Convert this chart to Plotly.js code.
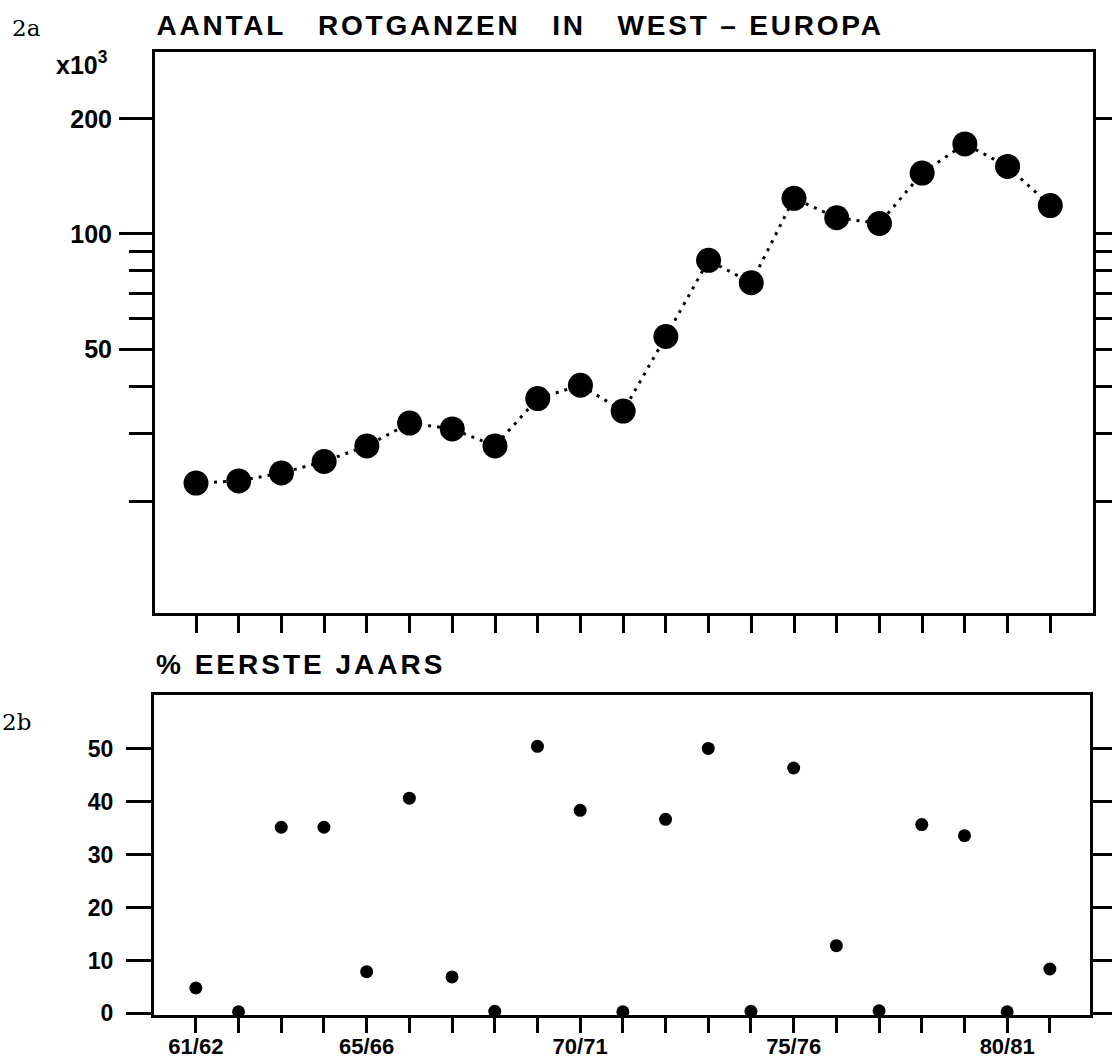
<!DOCTYPE html>
<html>
<head>
<meta charset="utf-8">
<script src="https://cdn.plot.ly/plotly-3.0.1.min.js"></script>
<style>
html,body{margin:0;padding:0;background:#fff;}
#chart{width:1112px;height:1063px;}
.annotation[data-index="0"] text{letter-spacing:2.8px;}
.annotation[data-index="3"] text{letter-spacing:3px;}
</style>
</head>
<body>
<div id="chart"></div>
<script>
// Seasons (winter counts)
const seasons = ['61/62','62/63','63/64','64/65','65/66','66/67','67/68','68/69','69/70','70/71',
                 '71/72','72/73','73/74','74/75','75/76','76/77','77/78','78/79','79/80','80/81','81/82'];
// Number of Brent geese in Western Europe (x 1000)
const counts = [22.3,22.6,23.7,25.4,27.9,32.0,30.9,27.9,37.1,40.2,
                34.4,53.9,85.3,74.5,123.9,110.2,106.5,144.2,171.9,150.1,118.6];
// Percentage first-year birds
const firstYearPct = [4.8,0.3,35.2,35.2,7.9,40.7,6.9,0.4,50.5,38.4,
                      0.3,36.7,50.1,0.4,46.4,12.8,0.5,35.7,33.6,0.3,8.4];
const labelledSeasons = ['61/62','65/66','70/71','75/76','80/81'];
const countMajorTicks = [50,100,200];
const countMinorTicks = [20,30,40,60,70,80,90];
const pctTicks = [0,10,20,30,40,50];

const W = 1112, H = 1063;
const px = v => v / W;
const py = v => 1 - v / H;
const FONT = 'Liberation Sans, Arial, Helvetica, sans-serif';
const seasonPos = seasons.map((s, i) => i);
const labelledPos = labelledSeasons.map(s => seasons.indexOf(s));

const traces = [
  {
    x: seasonPos, y: counts, text: seasons, xaxis: 'x', yaxis: 'y', type: 'scatter', mode: 'lines+markers',
    line: {color: '#000', width: 3, dash: '3px,6px'},
    marker: {color: '#000', size: 25},
    cliponaxis: false, hoverinfo: 'skip', showlegend: false
  },
  {
    x: seasonPos, y: firstYearPct, text: seasons, xaxis: 'x2', yaxis: 'y2', type: 'scatter', mode: 'markers',
    marker: {color: '#000', size: 13},
    cliponaxis: false, hoverinfo: 'skip', showlegend: false
  }
];

const axisCommon = {
  showline: true, linecolor: '#000', linewidth: 3, mirror: true,
  showgrid: false, zeroline: false, ticks: 'outside', tickcolor: '#000', tickwidth: 3,
  fixedrange: true
};

const layout = {
  width: W, height: H,
  margin: {l: 0, r: 0, t: 0, b: 0},
  paper_bgcolor: '#fff', plot_bgcolor: '#fff',
  showlegend: false,
  xaxis: Object.assign({}, axisCommon, {
    domain: [px(155), px(1093)], anchor: 'y',
    type: 'linear', range: [-0.96, 21.0],
    tickmode: 'array', tickvals: seasonPos,
    ticklen: 17, showticklabels: false
  }),
  yaxis: Object.assign({}, axisCommon, {
    domain: [py(613), py(52)], anchor: 'x',
    type: 'log', range: [Math.log10(10.2), Math.log10(299)],
    mirror: 'ticks',
    tickmode: 'array', tickvals: countMajorTicks, ticktext: countMajorTicks.map(String),
    ticklen: 33, ticklabelstandoff: 2,
    tickfont: {family: FONT, size: 25, color: '#000', weight: 'bold'},
    minor: {tickmode: 'array', tickvals: countMinorTicks, ticks: 'outside', ticklen: 23,
            tickwidth: 3, tickcolor: '#000', showgrid: false}
  }),
  xaxis2: Object.assign({}, axisCommon, {
    domain: [px(154), px(1090)], anchor: 'y2',
    type: 'linear', range: [-0.98, 20.94],
    tickmode: 'array', tickvals: labelledPos, ticktext: labelledSeasons,
    ticklen: 15, tickangle: 0, ticklabelstandoff: -5,
    tickfont: {family: FONT, size: 22, color: '#000', weight: 'bold'},
    minor: {tickmode: 'array', tickvals: seasonPos, ticks: 'outside', ticklen: 15,
            tickwidth: 3, tickcolor: '#000', showgrid: false}
  }),
  yaxis2: Object.assign({}, axisCommon, {
    domain: [py(1015), py(695)], anchor: 'x2',
    range: [-0.3, 60.2],
    mirror: 'ticks',
    tickmode: 'array', tickvals: pctTicks, ticktext: pctTicks.map(String),
    ticklen: 25, ticklabelstandoff: 8,
    tickfont: {family: FONT, size: 23, color: '#000', weight: 'bold'}
  }),
  annotations: [
    {text: 'AANTAL\u00A0\u00A0\u00A0ROTGANZEN\u00A0\u00A0\u00A0IN\u00A0\u00A0\u00A0WEST\u00A0\u2013\u00A0EUROPA',
     xref: 'paper', yref: 'paper', x: px(520), y: py(25), xanchor: 'center', yanchor: 'middle',
     showarrow: false, font: {family: FONT, size: 28, color: '#000', weight: 'bold'}},
    {text: '2a', xref: 'paper', yref: 'paper', x: px(10), y: py(28), xanchor: 'left', yanchor: 'middle',
     showarrow: false, font: {family: 'DejaVu Serif, serif', size: 23, color: '#000'}},
    {text: 'x10<sup>3</sup>', xref: 'paper', yref: 'paper', x: px(54), y: py(63), xanchor: 'left', yanchor: 'middle',
     showarrow: false, font: {family: FONT, size: 25, color: '#000', weight: 'bold'}},
    {text: '%\u00A0EERSTE\u00A0JAARS', xref: 'paper', yref: 'paper', x: px(300), y: py(664), xanchor: 'center', yanchor: 'middle',
     showarrow: false, font: {family: FONT, size: 28, color: '#000', weight: 'bold'}},
    {text: '2b', xref: 'paper', yref: 'paper', x: px(0), y: py(722), xanchor: 'left', yanchor: 'middle',
     showarrow: false, font: {family: 'DejaVu Serif, serif', size: 23, color: '#000'}}
  ]
};

Plotly.newPlot('chart', traces, layout, {staticPlot: true, displayModeBar: false});
</script>
</body>
</html>
